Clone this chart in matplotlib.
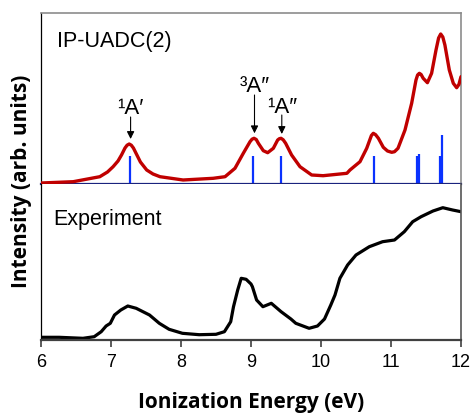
import matplotlib
matplotlib.use("Agg")
import matplotlib.pyplot as plt

# ---- data ----
calc_E = [6.00, 6.46, 6.84, 6.95, 7.03, 7.10, 7.15, 7.20, 7.23, 7.26, 7.29, 7.32, 7.37,
          7.42, 7.51, 7.60, 7.70, 8.03, 8.46,
          8.629, 8.771, 8.89, 8.986, 9.015, 9.043, 9.075, 9.105, 9.176, 9.238, 9.319,
          9.381, 9.405, 9.429, 9.46, 9.495, 9.58, 9.70, 9.867, 10.03, 10.37, 10.414,
          10.557, 10.653, 10.72, 10.747, 10.78, 10.82, 10.89, 10.95, 11.01, 11.05, 11.10,
          11.20, 11.295, 11.357, 11.38, 11.405, 11.43, 11.46, 11.52, 11.58, 11.643,
          11.68, 11.71, 11.74, 11.77, 11.833, 11.89, 11.938, 11.97, 12.00]
calc_I = [1.0, 2.3, 7.3, 12.0, 17.3, 23.0, 29.0, 36.0, 38.8, 40.0, 38.8, 36.0, 29.0,
          22.0, 14.0, 10.0, 7.3, 4.0, 5.7,
          7.3, 15.7, 30.7, 42.3, 44.8, 45.7, 44.5, 40.7, 33.3, 31.3, 35.7,
          44.0, 45.3, 45.7, 44.2, 40.7, 29.0, 17.3, 9.0, 8.3, 10.7, 14.0,
          22.3, 35.7, 48.5, 50.7, 49.3, 45.7, 36.7, 33.0, 31.7, 32.3, 35.7,
          54.0, 80.7, 104.0, 109.0, 110.7, 109.5, 105.7, 101.3, 110.7, 134.0,
          146.0, 150.0, 147.0, 139.0, 114.0, 100.7, 96.3, 99.5, 107.3]

stick_E = [7.27, 9.03, 9.43, 10.76, 11.367, 11.40, 11.70, 11.724]
stick_I = [28.0, 28.0, 28.0, 28.0, 28.0, 29.7, 28.0, 49.0]

exp_E = [6.00, 6.26, 6.60, 6.76, 6.86, 6.93, 6.99, 7.05, 7.14, 7.24, 7.36, 7.55, 7.69,
         7.83, 8.02, 8.26, 8.50, 8.62, 8.71, 8.75, 8.81, 8.86, 8.93, 9.00, 9.02, 9.08,
         9.17, 9.29, 9.43, 9.57, 9.64, 9.83, 9.95, 10.05, 10.14, 10.20, 10.27, 10.38,
         10.50, 10.69, 10.88, 11.05, 11.19, 11.31, 11.43, 11.60, 11.74, 11.88, 12.00]
exp_I = [2.7, 2.7, 1.7, 3.3, 8.3, 14.0, 16.7, 25.0, 30.0, 34.0, 31.7, 25.0, 16.7,
         10.7, 6.7, 5.3, 5.7, 8.3, 18.3, 33.3, 50.0, 61.7, 60.7, 56.0, 53.3, 40.0,
         33.3, 36.7, 28.3, 21.0, 16.7, 11.7, 14.0, 21.0, 35.0, 45.0, 61.7, 75.0,
         85.0, 93.3, 98.3, 100.0, 108.3, 118.3, 123.3, 129.0, 132.3, 130.0, 128.3]

x_ticks = [6, 7, 8, 9, 10, 11, 12]

labels = ["\u00b9A\u2032", "\u00b3A\u2033", "\u00b9A\u2033"]
label_E = [7.28, 9.05, 9.44]
label_baseline = [69.5, 91.5, 71.0]
arrow_top = [67.0, 89.0, 69.0]
arrow_tip = [45.0, 50.7, 50.0]

# ---- figure ----
W, H = 474, 415
fig = plt.figure(figsize=(W / 100, H / 100), dpi=100)
fam = ["Liberation Sans", "DejaVu Sans"]

L, R = 41, 461
top_y0, top_y1 = 13, 184
bot_y1 = 340

ax1 = fig.add_axes([L / W, 1 - top_y1 / H, (R - L) / W, (top_y1 - top_y0) / H])
ax2 = fig.add_axes([L / W, 1 - bot_y1 / H, (R - L) / W, (bot_y1 - top_y1) / H])

# top panel
ax1.vlines(stick_E, 0, stick_I, color="#0a32ff", lw=1.6, zorder=2)
ax1.plot(calc_E, calc_I, color="#c00000", lw=2.4, solid_capstyle="round",
         solid_joinstyle="round", zorder=3)
ax1.set_xlim(6, 12)
ax1.set_ylim(0, top_y1 - top_y0)
ax1.set_xticks([])
ax1.set_yticks([])
for s in ["top", "right"]:
    ax1.spines[s].set_color("#8c8c8c")
    ax1.spines[s].set_linewidth(1.2)
ax1.spines["left"].set_color("black")
ax1.spines["left"].set_linewidth(0.9)
ax1.spines["bottom"].set_color("#1a237e")
ax1.spines["bottom"].set_linewidth(1.6)
ax1.text(6.23, 142, "IP-UADC(2)", fontsize=15.5, family=fam, va="center", ha="left")

for lab, e, ty, at, tip in zip(labels, label_E, label_baseline, arrow_top, arrow_tip):
    ax1.text(e, ty, lab, fontsize=16, family=fam, ha="center", va="baseline")
    ax1.annotate("", xy=(e, tip), xytext=(e, at),
                 arrowprops=dict(arrowstyle="-|>", color="black", lw=0.8,
                                 mutation_scale=11, shrinkA=0, shrinkB=0))

# bottom panel
ax2.plot(exp_E, exp_I, color="black", lw=2.3, solid_joinstyle="round",
         solid_capstyle="round")
ax2.set_xlim(6, 12)
ax2.set_ylim(0, bot_y1 - top_y1)
ax2.set_yticks([])
ax2.set_xticks(x_ticks)
ax2.set_xticklabels([str(t) for t in x_ticks], family=fam, fontsize=13)
ax2.tick_params(axis="x", direction="out", length=5, width=1.2, color="#404040", pad=5)
ax2.spines["top"].set_visible(False)
ax2.spines["left"].set_color("black")
ax2.spines["left"].set_linewidth(0.9)
ax2.spines["right"].set_color("#555555")
ax2.spines["right"].set_linewidth(1.2)
ax2.spines["bottom"].set_color("#404040")
ax2.spines["bottom"].set_linewidth(1.6)
ax2.text(6.18, 120, "Experiment", fontsize=15.5, family=fam, va="center", ha="left")

lab_fam = ["Open Sans", "DejaVu Sans"]
fig.text(251 / W, 1 - 402 / H, "Ionization Energy (eV)", fontsize=15, fontweight="bold",
         family=lab_fam, ha="center", va="center")
fig.text(22 / W, 1 - 181 / H, "Intensity (arb. units)", fontsize=15, fontweight="bold",
         family=lab_fam, ha="center", va="center", rotation=90)

fig.savefig("out.png", dpi=100)
